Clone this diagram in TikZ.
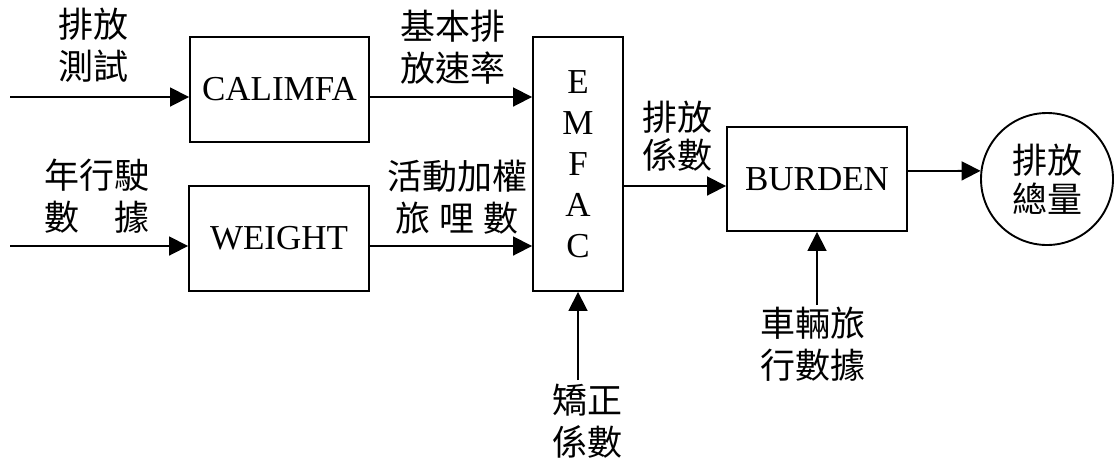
\documentclass[tikz,border=0pt]{standalone}
\usepackage{fontspec}
\setmainfont{Liberation Serif}
\newfontfamily\cjk{Noto Sans CJK TC}
\usetikzlibrary{arrows.meta}
\begin{document}
\begin{tikzpicture}[x=1pt,y=-1pt,
  box/.style={draw,line width=1.9pt,inner sep=0pt,font=\fontsize{35}{41}\selectfont,align=center},
  lab/.style={font=\cjk\fontsize{35}{42}\selectfont,align=center,inner sep=0pt},
  arr/.style={line width=1.8pt,-{Triangle[length=19pt,width=19pt]}}]
\useasboundingbox (0,0) rectangle (1118,459);
\node[box,minimum width=179pt,minimum height=105pt] (cal) at (279.5,89.5) {CALIMFA};
\node[box,minimum width=180pt,minimum height=105pt] (wt) at (279,238.5) {WEIGHT};
\node[box,minimum width=90pt,minimum height=254pt] (em) at (578,164) {E\\M\\F\\A\\C};
\node[box,minimum width=180pt,minimum height=104pt] (bu) at (817,179) {BURDEN};
\node[circle,draw,line width=1.9pt,minimum size=132pt,inner sep=0pt,font=\cjk\fontsize{35}{39}\selectfont,align=center] (tot) at (1047,179) {排放\\總量};

\node[lab] (l1) at (93,45.5) {排放\\測試};
\node[lab] (l2) at (97,196.5) {年行駛\\數　據};
\node[lab] (l3) at (453,47) {基本排\\放速率};
\node[lab] (l4) at (457,197) {活動加權\\旅\hspace{0.25em}哩\hspace{0.25em}數};
\node[lab,font=\cjk\fontsize{35}{38}\selectfont] (l5) at (677,136) {排放\\係數};
\node[lab] (l6) at (587,421.5) {矯正\\係數};
\node[lab] (l7) at (813,344) {車輛旅\\行數據};

\coordinate (in1) at (10,97);
\coordinate (in2) at (10,246);
\coordinate (cf) at (578,380);
\coordinate (vt) at (817,305);

\draw[arr] (in1) -- (in1 -| cal.west);
\draw[arr] (in2) -- (in2 -| wt.west);
\draw[arr] (cal.east |- in1) -- (in1 -| em.west);
\draw[arr] (wt.east |- in2) -- (in2 -| em.west);
\draw[arr] ([yshift=-22pt]em.east) -- ([yshift=-7pt]bu.west);
\draw[arr] ([yshift=8pt]bu.east) -- (tot.173);
\draw[arr] (cf) -- (cf |- em.south);
\draw[arr] (vt) -- (vt |- bu.south);
\end{tikzpicture}
\end{document}
